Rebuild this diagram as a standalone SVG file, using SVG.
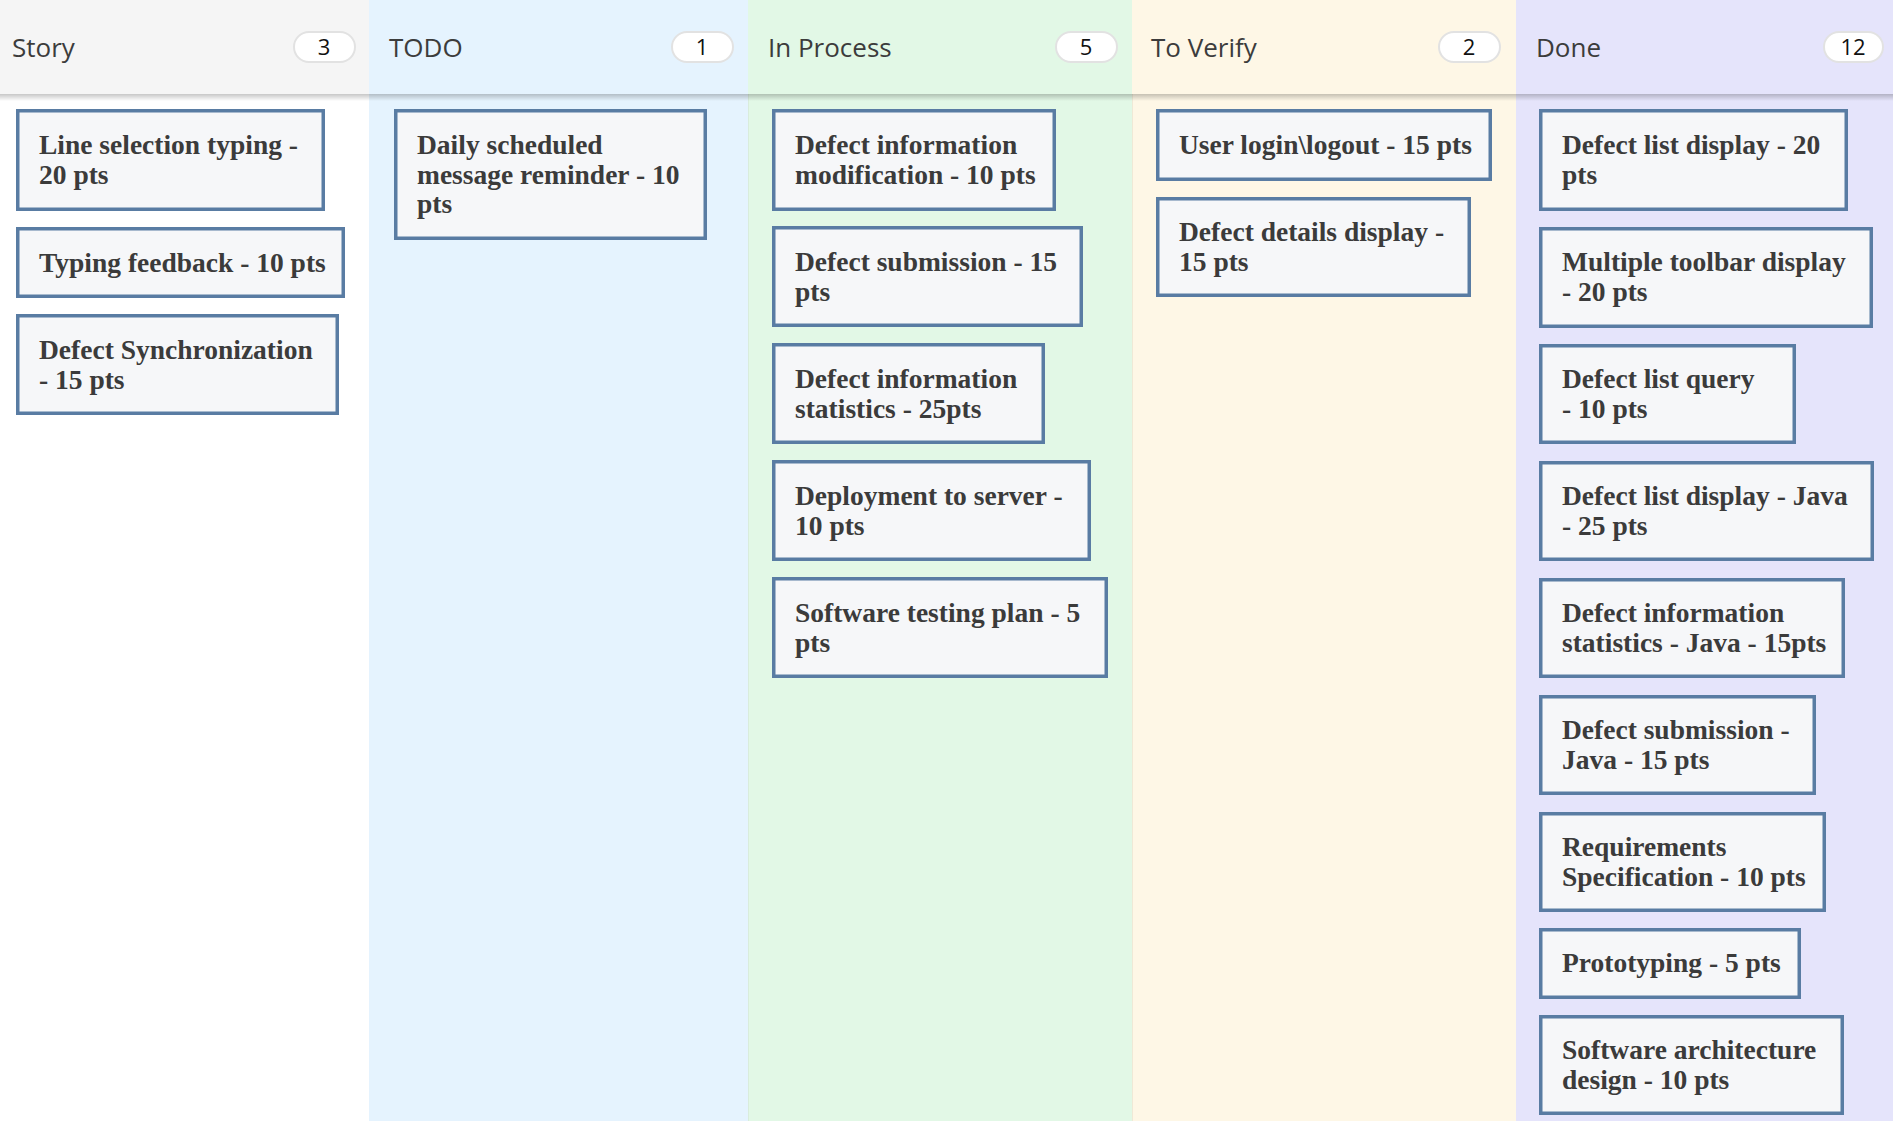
<svg xmlns="http://www.w3.org/2000/svg" width="1893" height="1121" viewBox="0 0 1893 1121">
  <style>
    .col-title { font-family: "Open Sans", "Noto Sans", sans-serif; font-size: 26px; fill: #3c3c3c; }
    .badge { fill: #ffffff; stroke: #e2e2e2; stroke-width: 2; }
    .badge-num { font-family: "Open Sans", "Noto Sans", sans-serif; font-size: 22px; fill: #111111; text-anchor: middle; }
    .card { fill: #f6f7f9; stroke: #597ca3; stroke-width: 3.5; }
    .card-text { font-family: "Liberation Serif", "Times New Roman", serif; font-weight: bold; font-size: 27.5px; fill: #3b3b3b; }
  </style>
  <defs>
    <linearGradient id="headShadow" x1="0" y1="0" x2="0" y2="1">
      <stop offset="0" stop-color="#000000" stop-opacity="0.22"/>
      <stop offset="1" stop-color="#000000" stop-opacity="0"/>
    </linearGradient>
  </defs>

  <!-- column backgrounds -->
  <g id="columns">
    <rect x="0" y="0" width="369" height="1121" fill="#ffffff"/>
    <rect x="0" y="0" width="369" height="94" fill="#f5f5f5"/>
    <rect x="369" y="0" width="379" height="1121" fill="#e5f3fe"/>
    <rect x="748" y="0" width="384" height="1121" fill="#e2f8e6"/>
    <rect x="1132" y="0" width="384" height="1121" fill="#fef7e6"/>
    <rect x="1516" y="0" width="377" height="1121" fill="#e5e4fb"/>
    <line x1="748.5" y1="94" x2="748.5" y2="1121" stroke="#d9ecdc" stroke-width="1"/>
    <line x1="1132.5" y1="94" x2="1132.5" y2="1121" stroke="#efe9d6" stroke-width="1"/>
    <rect x="0" y="94" width="1893" height="7" fill="url(#headShadow)"/>
  </g>

  <!-- column headers -->
  <g id="header-story">
    <text class="col-title" x="12" y="57">Story</text>
    <rect class="badge" x="294" y="32" width="61" height="30" rx="15"/>
    <text class="badge-num" x="324" y="55">3</text>
  </g>
  <g id="header-todo">
    <text class="col-title" x="389" y="57">TODO</text>
    <rect class="badge" x="672" y="32" width="61" height="30" rx="15"/>
    <text class="badge-num" x="702" y="55">1</text>
  </g>
  <g id="header-inprocess">
    <text class="col-title" x="768" y="57">In Process</text>
    <rect class="badge" x="1056" y="32" width="61" height="30" rx="15"/>
    <text class="badge-num" x="1086" y="55">5</text>
  </g>
  <g id="header-toverify">
    <text class="col-title" x="1151" y="57">To Verify</text>
    <rect class="badge" x="1439" y="32" width="61" height="30" rx="15"/>
    <text class="badge-num" x="1469" y="55">2</text>
  </g>
  <g id="header-done">
    <text class="col-title" x="1536" y="57">Done</text>
    <rect class="badge" x="1824" y="32" width="59" height="30" rx="15"/>
    <text class="badge-num" x="1853" y="55">12</text>
  </g>

  <!-- Story cards -->
  <g id="story-1">
    <rect class="card" x="17.75" y="110.75" width="305.5" height="98.5"/>
    <text class="card-text" x="39" y="154">Line selection typing -</text>
    <text class="card-text" x="39" y="184">20 pts</text>
  </g>
  <g id="story-2">
    <rect class="card" x="17.75" y="228.75" width="325.5" height="67.5"/>
    <text class="card-text" x="39" y="272">Typing feedback - 10 pts</text>
  </g>
  <g id="story-3">
    <rect class="card" x="17.75" y="315.75" width="319.5" height="97.5"/>
    <text class="card-text" x="39" y="359">Defect Synchronization</text>
    <text class="card-text" x="39" y="389">- 15 pts</text>
  </g>

  <!-- TODO cards -->
  <g id="todo-1">
    <rect class="card" x="395.75" y="110.75" width="309.5" height="127.5"/>
    <text class="card-text" x="417" y="154">Daily scheduled</text>
    <text class="card-text" x="417" y="184">message reminder - 10</text>
    <text class="card-text" x="417" y="213">pts</text>
  </g>

  <!-- In Process cards -->
  <g id="inprocess-1">
    <rect class="card" x="773.75" y="110.75" width="280.5" height="98.5"/>
    <text class="card-text" x="795" y="154">Defect information</text>
    <text class="card-text" x="795" y="184">modification - 10 pts</text>
  </g>
  <g id="inprocess-2">
    <rect class="card" x="773.75" y="227.75" width="307.5" height="97.5"/>
    <text class="card-text" x="795" y="271">Defect submission - 15</text>
    <text class="card-text" x="795" y="301">pts</text>
  </g>
  <g id="inprocess-3">
    <rect class="card" x="773.75" y="344.75" width="269.5" height="97.5"/>
    <text class="card-text" x="795" y="388">Defect information</text>
    <text class="card-text" x="795" y="418">statistics - 25pts</text>
  </g>
  <g id="inprocess-4">
    <rect class="card" x="773.75" y="461.75" width="315.5" height="97.5"/>
    <text class="card-text" x="795" y="505">Deployment to server -</text>
    <text class="card-text" x="795" y="535">10 pts</text>
  </g>
  <g id="inprocess-5">
    <rect class="card" x="773.75" y="578.75" width="332.5" height="97.5"/>
    <text class="card-text" x="795" y="622">Software testing plan - 5</text>
    <text class="card-text" x="795" y="652">pts</text>
  </g>

  <!-- To Verify cards -->
  <g id="toverify-1">
    <rect class="card" x="1157.75" y="110.75" width="332.5" height="68.5"/>
    <text class="card-text" x="1179" y="154">User login\logout - 15 pts</text>
  </g>
  <g id="toverify-2">
    <rect class="card" x="1157.75" y="198.75" width="311.5" height="96.5"/>
    <text class="card-text" x="1179" y="241">Defect details display -</text>
    <text class="card-text" x="1179" y="271">15 pts</text>
  </g>

  <!-- Done cards -->
  <g id="done-1">
    <rect class="card" x="1540.75" y="110.75" width="305.5" height="98.5"/>
    <text class="card-text" x="1562" y="154">Defect list display - 20</text>
    <text class="card-text" x="1562" y="184">pts</text>
  </g>
  <g id="done-2">
    <rect class="card" x="1540.75" y="228.75" width="330.5" height="97.5"/>
    <text class="card-text" x="1562" y="271">Multiple toolbar display</text>
    <text class="card-text" x="1562" y="301">- 20 pts</text>
  </g>
  <g id="done-3">
    <rect class="card" x="1540.75" y="345.75" width="253.5" height="96.5"/>
    <text class="card-text" x="1562" y="388">Defect list query</text>
    <text class="card-text" x="1562" y="418">- 10 pts</text>
  </g>
  <g id="done-4">
    <rect class="card" x="1540.75" y="462.75" width="331.5" height="96.5"/>
    <text class="card-text" x="1562" y="505">Defect list display - Java</text>
    <text class="card-text" x="1562" y="535">- 25 pts</text>
  </g>
  <g id="done-5">
    <rect class="card" x="1540.75" y="579.75" width="302.5" height="96.5"/>
    <text class="card-text" x="1562" y="622">Defect information</text>
    <text class="card-text" x="1562" y="652">statistics - Java - 15pts</text>
  </g>
  <g id="done-6">
    <rect class="card" x="1540.75" y="696.75" width="273.5" height="96.5"/>
    <text class="card-text" x="1562" y="739">Defect submission -</text>
    <text class="card-text" x="1562" y="769">Java - 15 pts</text>
  </g>
  <g id="done-7">
    <rect class="card" x="1540.75" y="813.75" width="283.5" height="96.5"/>
    <text class="card-text" x="1562" y="856">Requirements</text>
    <text class="card-text" x="1562" y="886">Specification - 10 pts</text>
  </g>
  <g id="done-8">
    <rect class="card" x="1540.75" y="929.75" width="258.5" height="67.5"/>
    <text class="card-text" x="1562" y="972">Prototyping - 5 pts</text>
  </g>
  <g id="done-9">
    <rect class="card" x="1540.75" y="1016.75" width="301.5" height="96.5"/>
    <text class="card-text" x="1562" y="1059">Software architecture</text>
    <text class="card-text" x="1562" y="1089">design - 10 pts</text>
  </g>

  <!-- no connectors between cards -->
  <g id="connectors"/>
</svg>
